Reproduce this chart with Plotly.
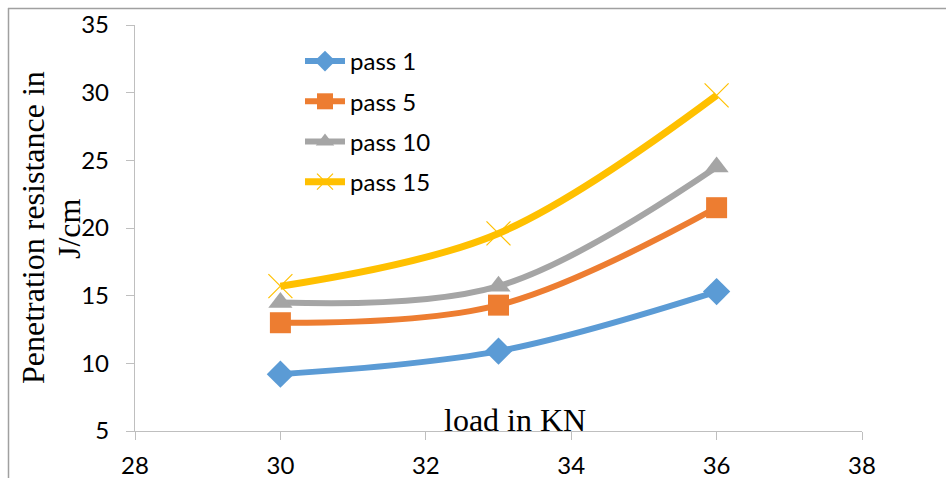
import plotly.graph_objects as go

loads = [30, 33, 36]
pass1 = [9.2, 10.9, 15.3]
pass5 = [13.0, 14.3, 21.5]
pass10 = [14.5, 15.7, 24.5]
pass15 = [15.7, 19.6, 29.8]
names = ["pass 1", "pass 5", "pass 10", "pass 15"]
x_ticks = [28, 30, 32, 34, 36, 38]
y_ticks = [5, 10, 15, 20, 25, 30, 35]

colors = ["#5B9BD5", "#ED7D31", "#A5A5A5", "#FFC000"]
symbols = ["diamond", "square", "triangle-up", "x-thin"]
sizes = [21, 21, 21, 24]

fig = go.Figure()
for i, (nm, ys) in enumerate(zip(names, [pass1, pass5, pass10, pass15])):
    marker = dict(symbol=symbols[i], size=sizes[i], color=colors[i])
    if symbols[i] == "x-thin":
        marker["line"] = dict(color=colors[i], width=1.2)
    else:
        marker["line"] = dict(width=0)
    fig.add_trace(go.Scatter(
        x=loads, y=ys, name=nm, mode="lines+markers",
        line=dict(color=colors[i], width=7 if i == 3 else 6, shape="spline", smoothing=1.0),
        marker=marker, legendgroup=nm,
    ))

axis_font = dict(family="Lato, Open Sans, sans-serif", size=24, color="#000000")
serif = "Liberation Serif, Times New Roman, serif"
L, R, T, B = 135, 862, 25, 431
PW, PH = R - L, B - T

def px(xp):
    return (xp - L) / PW

def py(yp):
    return (B - yp) / PH

fig.update_layout(
    width=946, height=478,
    margin=dict(l=L, r=946 - R, t=T, b=478 - B, autoexpand=False),
    paper_bgcolor="white", plot_bgcolor="white",
    showlegend=True,
    legend=dict(x=px(300), y=py(39), xanchor="left", yanchor="top",
                bgcolor="rgba(0,0,0,0)", font=dict(family="Lato, Open Sans, sans-serif", size=24, color="#000"),
                tracegroupgap=6, itemwidth=40),
    xaxis=dict(range=[28, 38], tickvals=x_ticks, showgrid=False, zeroline=False,
               showline=True, linecolor="#BFBFBF", linewidth=1.3, automargin=False,
               ticks="outside", ticklen=8, tickcolor="#BFBFBF", tickwidth=1.3,
               ticklabelstandoff=5, tickfont=axis_font),
    yaxis=dict(range=[5, 35], tickvals=y_ticks, showgrid=False, zeroline=False,
               showline=True, linecolor="#BFBFBF", linewidth=1.3, automargin=False,
               ticks="outside", ticklen=8, tickcolor="#BFBFBF", tickwidth=1.3,
               ticklabelstandoff=12, tickfont=axis_font),
    annotations=[
        dict(text="load in KN", xref="paper", yref="paper", x=px(515), y=0.0,
             xanchor="center", yanchor="bottom", yshift=-9, showarrow=False,
             font=dict(family=serif, size=32, color="#000")),
        dict(text="Penetration resistance in", xref="paper", yref="paper",
             x=px(33), y=py(228), xanchor="center", yanchor="middle", textangle=-90,
             showarrow=False, font=dict(family=serif, size=32, color="#000")),
        dict(text="J/cm", xref="paper", yref="paper",
             x=px(69), y=py(229), xanchor="center", yanchor="middle", textangle=-90,
             showarrow=False, font=dict(family=serif, size=32, color="#000")),
    ],
    shapes=[
        dict(type="line", xref="paper", yref="paper",
             x0=px(8), x1=px(946), y0=py(8.5), y1=py(8.5),
             line=dict(color="#A0A0A0", width=1.5)),
        dict(type="line", xref="paper", yref="paper",
             x0=px(8.5), x1=px(8.5), y0=py(8), y1=py(478),
             line=dict(color="#A0A0A0", width=1.5)),
    ],
)

fig.write_html("out.html")
